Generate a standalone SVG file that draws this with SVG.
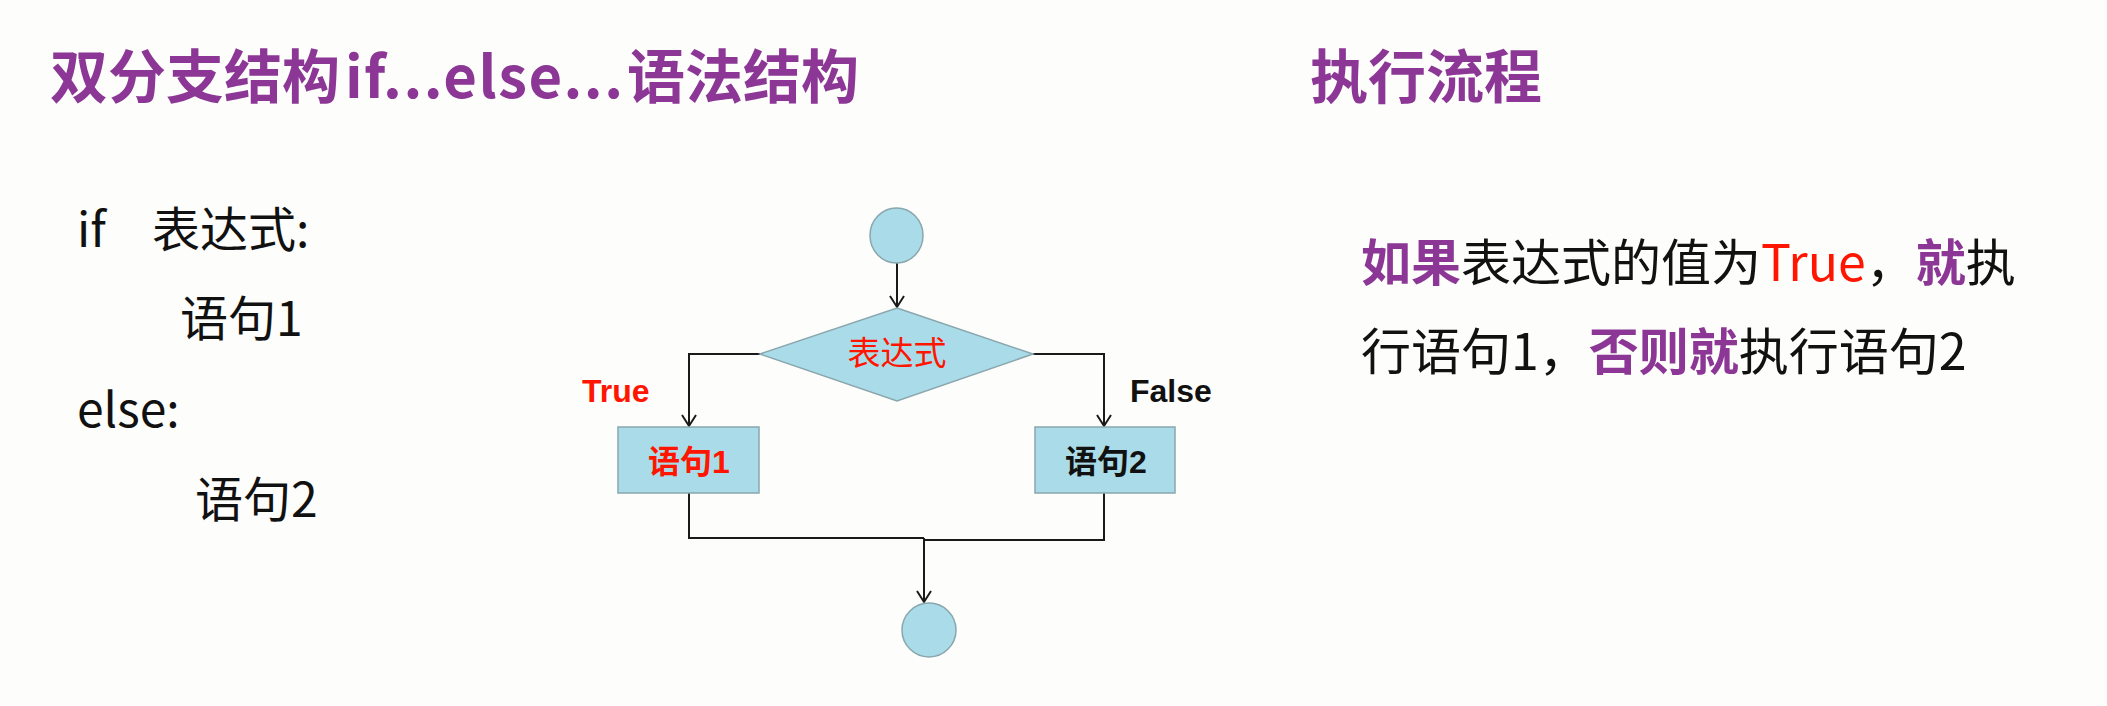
<svg xmlns="http://www.w3.org/2000/svg" width="2107" height="706" viewBox="0 0 2107 706">
<style>
.title{font-family:"Noto Sans CJK SC","Noto Sans",sans-serif;font-weight:bold;font-size:58px;fill:#8C3796;}
.code{font-family:"Noto Sans CJK SC","Noto Sans",sans-serif;font-size:48px;fill:#111;}
.body{font-family:"Noto Sans CJK SC","Noto Sans",sans-serif;font-size:50px;fill:#111;}
.hl{fill:#8C3796;font-weight:bold;}
.red{fill:#FF1500;}
.shape{fill:#A9DCE8;stroke:#8AA6AE;stroke-width:1.5;}
.lbl{font-family:"Liberation Sans","Noto Sans CJK SC",sans-serif;font-weight:bold;font-size:32px;}
.boxt{font-family:"Liberation Sans","Noto Sans CJK SC",sans-serif;font-weight:bold;font-size:32px;text-anchor:middle;}
.conn{fill:none;stroke:#1a1a1a;stroke-width:2;}
</style>
<defs>
<marker id="arr" viewBox="-13 -9 16 18" refX="0" refY="0" markerWidth="16" markerHeight="18" markerUnits="userSpaceOnUse" orient="auto" overflow="visible">
<path d="M-11,-7 L0,0 L-11,7" fill="none" stroke="#1a1a1a" stroke-width="2"/>
</marker>
</defs>
<rect width="2107" height="706" fill="#FDFDFB"/>

<g id="title-left">
<text class="title" y="98"><tspan x="50">双分支结构</tspan><tspan x="345" textLength="278" lengthAdjust="spacing">if...else...</tspan><tspan x="627">语法结构</tspan></text>
</g>
<g id="title-right">
<text class="title" x="1310" y="98">执行流程</text>
</g>

<g id="code">
<text class="code" x="77" y="247">if</text>
<text class="code" x="152" y="247">表达式:</text>
<text class="code" x="180" y="336">语句1</text>
<text class="code" x="77" y="427">else:</text>
<text class="code" x="195" y="517">语句2</text>
</g>

<g id="explain">
<text class="body" x="1361" y="281"><tspan class="hl">如果</tspan>表达式的值为<tspan class="red">True</tspan>，<tspan class="hl">就</tspan>执</text>
<text class="body" x="1361" y="370">行语句1，<tspan class="hl">否则就</tspan>执行语句2</text>
</g>

<g id="connectors">
<path class="conn" d="M897,263 V307" marker-end="url(#arr)"/>
<path class="conn" d="M760,354 H689 V426" marker-end="url(#arr)"/>
<path class="conn" d="M1033,354 H1104 V426" marker-end="url(#arr)"/>
<path class="conn" d="M689,493 V538 H924"/>
<path class="conn" d="M1104,493 V540 H924"/>
<path class="conn" d="M924,538 V602" marker-end="url(#arr)"/>
</g>

<g id="start">
<ellipse class="shape" cx="896.5" cy="235.5" rx="26.5" ry="27.5"/>
</g>
<g id="cond">
<polygon class="shape" points="897,308 1033,354 897,401 760,354"/>
<text x="897" y="365" text-anchor="middle" font-family="Noto Sans CJK SC, sans-serif" font-size="33" fill="#FF1500">表达式</text>
</g>
<g id="label-true">
<text class="lbl" x="582" y="402" fill="#FF1500">True</text>
</g>
<g id="label-false">
<text class="lbl" x="1130" y="402" fill="#111">False</text>
</g>
<g id="stmt1">
<rect class="shape" x="618" y="427" width="141" height="66"/>
<text class="boxt" x="689" y="473" fill="#FF1500">语句1</text>
</g>
<g id="stmt2">
<rect class="shape" x="1035" y="427" width="140" height="66"/>
<text class="boxt" x="1106" y="473" fill="#111">语句2</text>
</g>
<g id="end">
<ellipse class="shape" cx="929" cy="630" rx="27" ry="27"/>
</g>
</svg>
